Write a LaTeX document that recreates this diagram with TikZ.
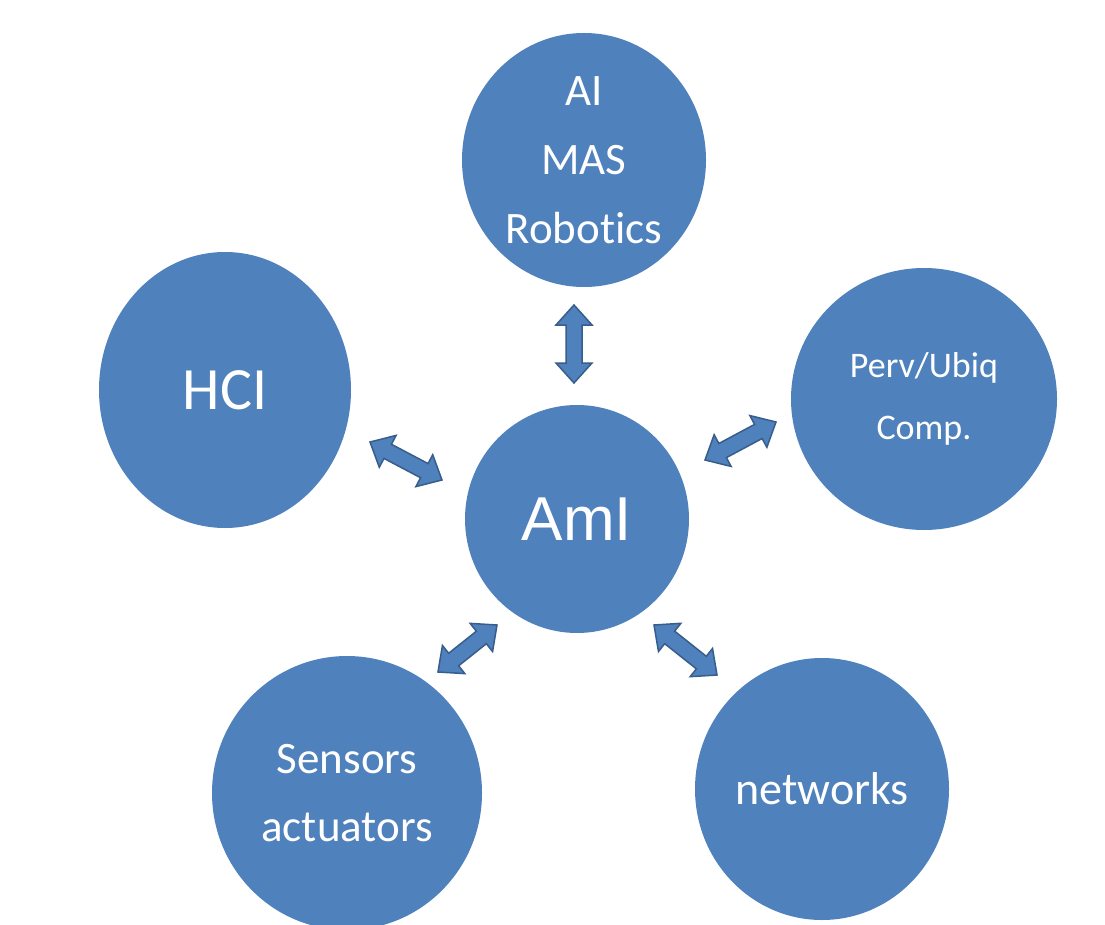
\documentclass[tikz,border=0pt]{standalone}
\usepackage{fontspec}
\setmainfont{Carlito}[Ligatures=NoCommon]
\newfontfamily\arialf{Liberation Sans}
\usetikzlibrary{shapes.geometric,calc}
\definecolor{bluefill}{HTML}{4F81BD}
\definecolor{blueline}{HTML}{385D8A}
\newcommand\bah{20pt}
\newcommand\baW{18pt}
\newcommand\baw{8pt}
\tikzset{
 bubble/.style={ellipse, fill=bluefill, text=white, inner sep=0pt, align=center},
 barrow/.style={fill=bluefill, draw=blueline, line width=1.5pt, line join=miter,
   to path={let \p1=(\tikztostart), \p2=(\tikztotarget), \n1={atan2(\y2-\y1,\x2-\x1)} in
     -- ($(\p1)+(\n1:\bah)+(\n1+90:\baW)$)
     -- ($(\p1)+(\n1:\bah)+(\n1+90:\baw)$)
     -- ($(\p2)+(\n1:-\bah)+(\n1+90:\baw)$)
     -- ($(\p2)+(\n1:-\bah)+(\n1+90:\baW)$)
     -- (\p2)
     -- ($(\p2)+(\n1:-\bah)+(\n1-90:\baW)$)
     -- ($(\p2)+(\n1:-\bah)+(\n1-90:\baw)$)
     -- ($(\p1)+(\n1:\bah)+(\n1-90:\baw)$)
     -- ($(\p1)+(\n1:\bah)+(\n1-90:\baW)$)
     -- cycle}}
}
\begin{document}
\begin{tikzpicture}[x=1pt,y=-1pt]
\clip (0,0) rectangle (1105,925);
\fill[white] (0,0) rectangle (1105,925);
\node[bubble, minimum width=244pt, minimum height=254pt, font=\fontsize{45}{69}\selectfont] (top) at (584,160) {AI\\MAS\\Robotics};
\node[bubble, minimum width=252pt, minimum height=276pt, font=\fontsize{60}{70}\selectfont] (hci) at (225,390) {HCI};
\node[bubble, minimum width=266pt, minimum height=262pt, font=\fontsize{36}{62}\selectfont] (perv) at (924,399) {Perv/Ubiq\\Comp.};
\node[bubble, minimum width=224pt, minimum height=228pt, font=\arialf\fontsize{62}{70}\selectfont] (ami) at (577,519) {AmI};
\node[bubble, minimum width=270pt, minimum height=274pt, font=\fontsize{45}{68}\selectfont] (sens) at (347,793) {Sensors\\actuators};
\node[bubble, minimum width=254pt, minimum height=262pt, font=\fontsize{46}{60}\selectfont] (net) at (822,789) {networks};
\coordinate (a1) at (574,305); \coordinate (a2) at (574,383);
\coordinate (b1) at (370,442); \coordinate (b2) at (442,480);
\coordinate (c1) at (705,460); \coordinate (c2) at (776,422);
\coordinate (d1) at (438,672); \coordinate (d2) at (497,625);
\coordinate (e1) at (654,625); \coordinate (e2) at (717,675);
\draw[barrow] (a1) to (a2);
\draw[barrow] (b1) to (b2);
\draw[barrow] (c1) to (c2);
\draw[barrow] (d1) to (d2);
\draw[barrow] (e1) to (e2);
\end{tikzpicture}
\end{document}
